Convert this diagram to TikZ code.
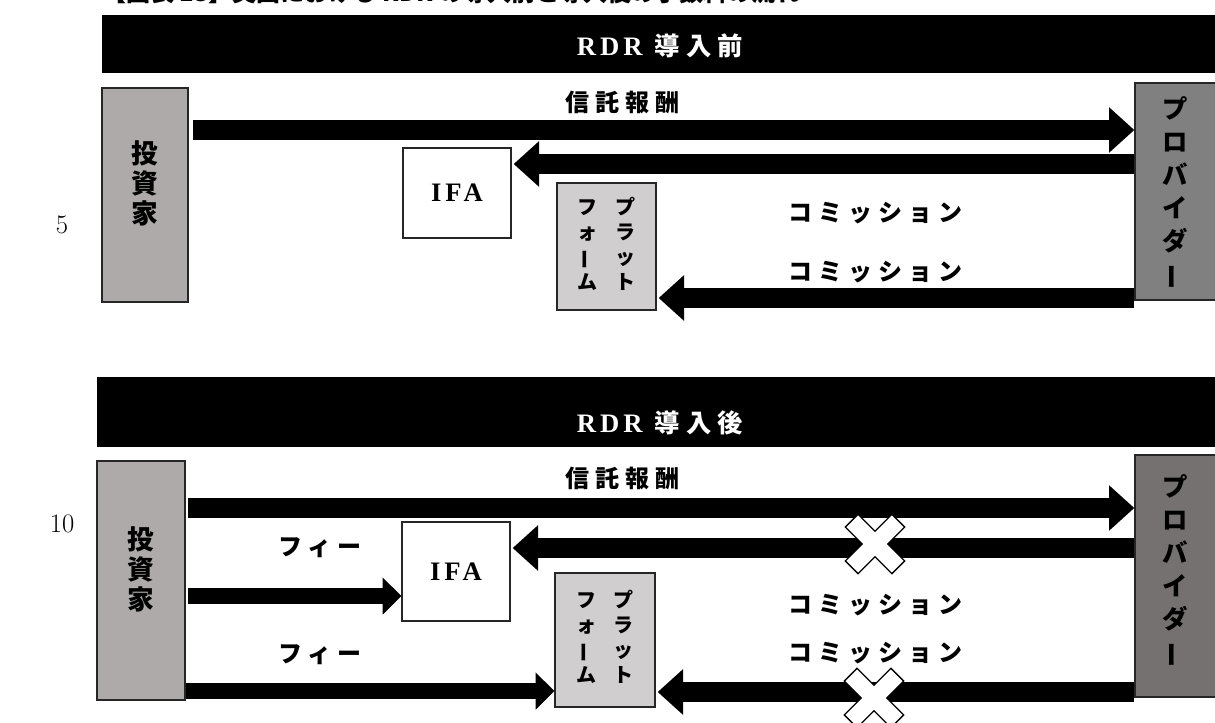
\documentclass[tikz,border=0pt]{standalone}
\usepackage{fontspec}
\usetikzlibrary{fit,arrows.meta}
\newfontfamily\jp{Noto Sans CJK JP}
\newfontfamily\jpsp{Noto Sans CJK JP}[LetterSpace=25]
\newfontfamily\serifsp{Liberation Serif}[LetterSpace=15]
\definecolor{invgray}{HTML}{AEAAAA}
\definecolor{platgray}{HTML}{D0CECE}
\definecolor{provgray}{HTML}{808080}
\definecolor{provgrayb}{HTML}{767171}
\newcommand\vbarjp{\rotatebox[origin=c]{90}{ー}}
\newcommand\platformtext{\begin{tabular}{@{}c@{\hspace{13pt}}c@{}}フ&プ\\ォ&ラ\\\vbarjp&ッ\\ム&ト\end{tabular}}
\newcommand\hdrlabel[1]{{\serifsp\bfseries\fontsize{20}{22}\selectfont RDR}\hspace{9pt}{\jpsp\bfseries\fontsize{19}{22}\selectfont #1}}
\begin{document}
\begin{tikzpicture}[x=0.75pt,y=-0.75pt,
 box/.style={draw=black!85,line width=1pt,inner sep=0pt},
 hdr/.style={fill=black,inner sep=0pt},
 hdrtext/.style={text=white,inner sep=0pt},
 vtext/.style={align=center,font=\jp\bfseries\fontsize{20}{22.5}\selectfont},
 ptext/.style={align=center,font=\jp\bfseries\fontsize{19}{24.75}\selectfont},
 pltext/.style={font=\jp\bfseries\fontsize{15}{18.75}\selectfont},
 ifatext/.style={font=\serifsp\bfseries\fontsize{20}{22}\selectfont},
 lbl/.style={font=\jpsp\bfseries\fontsize{18}{20}\selectfont,inner sep=0pt},
 bigarrow/.style={line width=15pt,-{Triangle[length=19pt,width=33pt]}},
 feearrow/.style={line width=12.5pt,-{Triangle[length=14pt,width=27pt]}},
 xmark/.style={fill=white,draw=black,line width=1pt,line join=miter},
 linenum/.style={font=\fontsize{20}{22}\selectfont}]
\useasboundingbox (0,0) rectangle (1215,722);

% clipped title
\node[anchor=base west,inner sep=0pt,font=\jp\bfseries\fontsize{18}{20}\selectfont] (title) at (102,1) {【図表 13】英国における RDR の導入前と導入後の手数料の流れ};

% line numbers
\node[linenum] (ln5) at (62,225) {5};
\node[linenum] (ln10) at (62,524) {10};

% ===== top panel =====
\node[hdr,fit={(102,15)(1222,73)}] (hdr1) {};
\node[hdrtext] (hdr1t) at (660,46) {\hdrlabel{導入前}};

\node[box,fill=invgray,fit={(102,88)(188,302)},vtext] (inv1) {投\\資\\家};
\node[box,fill=provgray,fit={(1135,83)(1222,300)}] (prov1) {};
\node[ptext] (prov1t) at (1175,193) {プ\\ロ\\バ\\イ\\ダ\\\vbarjp};
\node[box,fill=white,fit={(403,148)(511,238)}] (ifa1) {};
\node[ifatext] (ifa1t) at (ifa1.center) {IFA};
\node[box,fill=platgray,fit={(557,183)(656,310)}] (plat1) {};
\node[pltext] (plat1t) at (plat1.center) {\platformtext};

\draw[bigarrow,shorten <=3pt] (inv1.east |- 0,130) -- (prov1.west |- 0,130);
\draw[bigarrow,shorten >=1.5pt] (prov1.west |- 0,164) -- (ifa1.east |- 0,164);
\draw[bigarrow,shorten >=1.5pt] (prov1.west |- 0,298) -- (plat1.east |- 0,298);

\node[lbl] (fee1) at (622,102) {信託報酬};
\node[lbl] (com1a) at (875,213) {コミッション};
\node[lbl] (com1b) at (875,272) {コミッション};

% ===== bottom panel =====
\node[hdr,fit={(97,377)(1222,447)}] (hdr2) {};
\node[hdrtext] (hdr2t) at (660,423) {\hdrlabel{導入後}};

\node[box,fill=invgray,fit={(97,461)(185,700)},vtext] (inv2) {投\\資\\家};
\node[box,fill=provgrayb,fit={(1135,455)(1222,697)}] (prov2) {};
\node[ptext] (prov2t) at (1175,571) {プ\\ロ\\バ\\イ\\ダ\\\vbarjp};
\node[box,fill=white,fit={(402,522)(510,621)}] (ifa2) {};
\node[ifatext] (ifa2t) at (ifa2.center) {IFA};
\node[box,fill=platgray,fit={(555,573)(655,707)}] (plat2) {};
\node[pltext] (plat2t) at (plat2.center) {\platformtext};

\draw[bigarrow,shorten <=2pt] (inv2.east |- 0,508) -- (prov2.west |- 0,508);
\draw[bigarrow,shorten >=1.5pt] (prov2.west |- 0,548) -- (ifa2.east |- 0,548);
\draw[feearrow,shorten <=2pt] (inv2.east |- 0,596) -- (ifa2.west |- 0,596);
\draw[feearrow,shorten <=0pt] (inv2.east |- 0,691) -- (plat2.west |- 0,691);
\draw[bigarrow,shorten >=1.5pt] (prov2.west |- 0,692) -- (plat2.east |- 0,692);

\node[lbl] (fee2) at (622,478) {信託報酬};
\node[lbl] (feeA) at (320,548) {フィー};
\node[lbl] (feeB) at (320,655) {フィー};
\node[lbl] (com2a) at (875,605) {コミッション};
\node[lbl] (com2b) at (875,653) {コミッション};

% X marks
\foreach \cx/\cy in {875/544, 874/698}{
  \begin{scope}[shift={(\cx,\cy)},rotate=45]
    \draw[xmark] (9,33) -- (9,9) -- (33,9) -- (33,-9) -- (9,-9) -- (9,-33) -- (-9,-33) -- (-9,-9) -- (-33,-9) -- (-33,9) -- (-9,9) -- (-9,33) -- cycle;
  \end{scope}
}
\end{tikzpicture}
\end{document}
